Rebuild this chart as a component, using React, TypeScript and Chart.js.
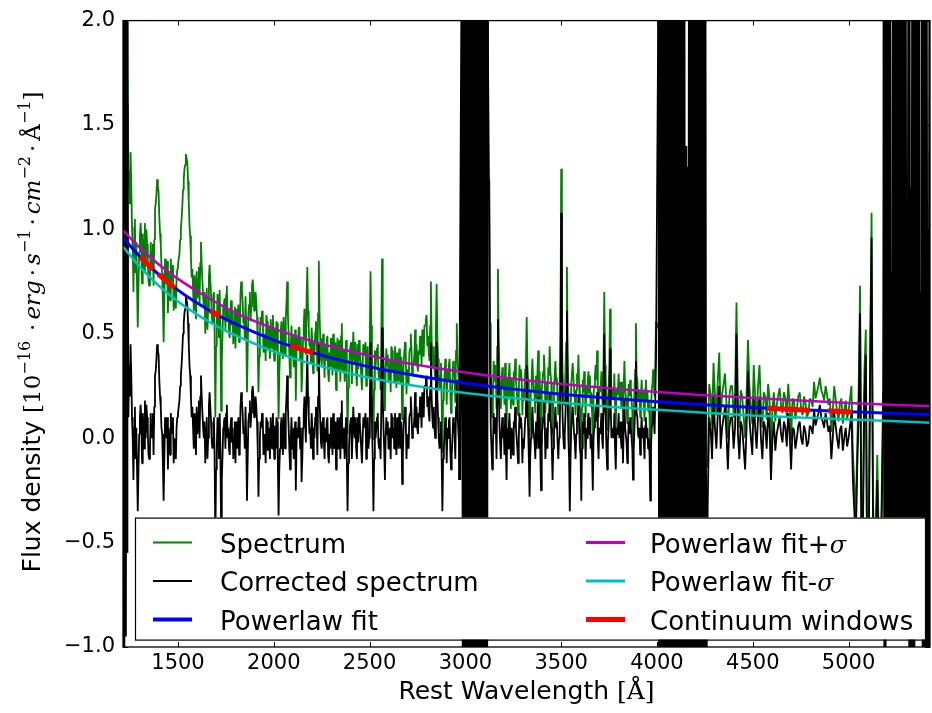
import { useEffect, useRef } from 'react';
import { Chart, registerables } from 'chart.js';
Chart.register(...registerables);

// ---------- axes ----------
const X_MIN = 1213;
const X_MAX = 5425;
const Y_MIN = -1;
const Y_MAX = 2;
const X_TICKS = [1500, 2000, 2500, 3000, 3500, 4000, 4500, 5000];
const Y_TICKS = [-1, -0.5, 0, 0.5, 1, 1.5, 2];

// ---------- spectrum, sampled on uniform wavelength grids (start, step) ----------
const SEG_A_START = 1213; const SEG_A_STEP = 4;
const SPEC_A = [2.4, 1.5, 2.6, 1.35, 2.3, 1.6, 2.1, 1.2];
const CORR_A = [2.5, -1.1, 2.4, -0.95, 2.3, -0.55, 1.6, 0.1];

// region B: 1245-2970 A, four interleaved grids of 15 A step
const SEG_B_STEP = 15;
const SEG_B_START = 1245;
const SPEC_B = [
  1.28, 1.01, 1.05, 0.53, 1.03, 0.90, 1.00, 0.73, 0.86, 1.10,
  1.21, 0.93, 0.46, 0.80, 0.74, 0.81, 0.67, 0.83, 1.00, 1.24,
  1.34, 1.02, 0.81, 0.70, 0.76, 0.94, 0.63, 0.72, 0.83, 0.55,
  0.10, 0.64, 0.13, 0.65, 0.73, 0.48, 0.60, 0.43, 0.64, 0.75,
  0.58, 0.22, 0.70, 0.76, 0.70, 0.22, 0.54, 0.44, 0.56, 0.38,
  0.59, 0.42, 0.09, 0.56, 0.50, 0.75, 0.29, 0.49, 0.18, 0.53,
  0.22, 0.62, 0.82, 0.46, 0.31, 0.56, 0.85, 0.35, 0.29, 0.49,
  0.34, 0.50, 0.23, 0.43, 0.55, 0.27, 0.02, 0.44, 0.51, 0.31,
  0.47, 0.23, 0.40, 0.44, 0.80, -0.01, 0.39, 0.28, 0.86, 0.13,
  0.40, 0.22, 0.37, 0.24, 0.43, 0.09, 0.46, 0.31, 0.50, 0.35,
  0.45, 0.40, 0.52, 0.54, 0.49, 0.75, 0.44, 0.74, 0.23, -0.07,
  0.38, 0.28, 0.12, 0.35, 0.55, 0.07,
];
const CORR_B = [
  0.35, 0.10, 0.15, -0.35, 0.16, 0.05, 0.16, -0.10, 0.05, 0.30,
  0.42, 0.15, -0.30, 0.05, 0.00, 0.08, -0.05, 0.12, 0.30, 0.55,
  0.66, 0.35, 0.15, 0.05, 0.12, 0.30, 0.00, 0.10, 0.22, -0.05,
  -0.50, 0.05, -0.45, 0.08, 0.16, -0.08, 0.05, -0.12, 0.10, 0.22,
  0.05, -0.30, 0.18, 0.25, 0.20, -0.28, 0.05, -0.05, 0.08, -0.10,
  0.12, -0.05, -0.37, 0.10, 0.05, 0.30, -0.15, 0.05, -0.25, 0.10,
  -0.21, 0.20, 0.40, 0.05, -0.10, 0.15, 0.45, -0.05, -0.10, 0.10,
  -0.05, 0.12, -0.15, 0.05, 0.18, -0.10, -0.35, 0.08, 0.15, -0.05,
  0.12, -0.12, 0.05, 0.10, 0.46, -0.35, 0.05, -0.05, 0.53, -0.20,
  0.08, -0.10, 0.05, -0.08, 0.12, -0.22, 0.15, 0.00, 0.20, 0.05,
  0.15, 0.10, 0.22, 0.25, 0.20, 0.46, 0.15, 0.46, -0.05, -0.35,
  0.10, 0.00, -0.15, 0.08, 0.28, -0.20,
];
const SEG_B2_START = 1252.5;
const SPEC_B2 = [
  1.37, 0.70, 0.94, 0.89, 0.74, 1.03, 0.85, 0.94, 0.73, 1.17,
  1.06, 0.79, 0.86, 0.60, 0.86, 0.61, 0.76, 0.88, 1.11, 1.31,
  1.23, 0.87, 0.61, 0.80, 0.64, 0.75, 0.50, 0.62, 0.69, 0.70,
  0.54, 0.71, 0.50, 0.52, 0.61, 0.66, 0.55, 0.59, 0.49, 0.65,
  0.68, 0.60, 0.63, 0.61, 0.58, 0.50, 0.59, 0.37, 0.53, 0.49,
  0.37, 0.55, 0.41, 0.38, 0.57, 0.50, 0.54, 0.39, 0.48, 0.38,
  0.47, 0.40, 0.52, 0.53, 0.41, 0.32, 0.48, 0.50, 0.37, 0.27,
  0.46, 0.38, 0.48, 0.27, 0.42, 0.47, 0.31, 0.26, 0.36, 0.45,
  0.37, 0.45, 0.25, 0.34, 0.39, 0.42, 0.45, 0.23, 0.38, 0.43,
  0.27, 0.42, 0.44, 0.34, 0.26, 0.36, 0.21, 0.41, 0.30, 0.52,
  0.32, 0.45, 0.39, 0.59, 0.37, 0.39, 0.29, 0.38, 0.36, 0.23,
  0.16, 0.38, 0.27, 0.17, 0.32,
];
const CORR_B2 = [
  0.45, -0.20, 0.05, 0.02, -0.12, 0.18, 0.02, 0.12, -0.08, 0.38,
  0.28, 0.02, 0.10, -0.15, 0.12, -0.12, 0.05, 0.18, 0.42, 0.62,
  0.55, 0.20, -0.05, 0.15, 0.00, 0.12, -0.12, 0.00, 0.08, 0.10,
  -0.05, 0.12, -0.08, -0.05, 0.05, 0.10, 0.00, 0.05, -0.05, 0.12,
  0.15, 0.08, 0.12, 0.10, 0.08, 0.00, 0.10, -0.12, 0.05, 0.02,
  -0.10, 0.08, -0.05, -0.08, 0.12, 0.05, 0.10, -0.05, 0.05, -0.05,
  0.05, -0.02, 0.10, 0.12, 0.00, -0.08, 0.08, 0.10, -0.02, -0.12,
  0.08, 0.00, 0.10, -0.10, 0.05, 0.10, -0.05, -0.10, 0.00, 0.10,
  0.02, 0.10, -0.10, 0.00, 0.05, 0.08, 0.12, -0.10, 0.05, 0.10,
  -0.05, 0.10, 0.12, 0.02, -0.05, 0.05, -0.10, 0.10, 0.00, 0.22,
  0.02, 0.15, 0.10, 0.30, 0.08, 0.10, 0.00, 0.10, 0.08, -0.05,
  -0.12, 0.10, 0.00, -0.10, 0.05,
];
const SEG_B3_START = 1248.75;
const SPEC_B3 = [
  1.12, 0.91, 0.79, 0.73, 0.94, 0.80, 0.93, 0.77, 0.93, 1.12,
  1.18, 0.82, 0.66, 0.85, 0.66, 0.83, 0.62, 0.86, 1.05, 1.29,
  1.32, 0.97, 0.71, 0.57, 0.82, 0.83, 0.70, 0.52, 0.76, 0.60,
  0.44, 0.48, 0.38, 0.67, 0.56, 0.61, 0.45, 0.62, 0.46, 0.71,
  0.47, 0.42, 0.56, 0.71, 0.65, 0.39, 0.61, 0.50, 0.42, 0.57,
  0.49, 0.56, 0.31, 0.45, 0.40, 0.59, 0.44, 0.34, 0.41, 0.53,
  0.32, 0.50, 0.61, 0.36, 0.46, 0.50, 0.60, 0.41, 0.44, 0.31,
  0.48, 0.33, 0.40, 0.47, 0.32, 0.38, 0.24, 0.46, 0.41, 0.25,
  0.43, 0.35, 0.46, 0.29, 0.54, 0.23, 0.43, 0.33, 0.53, 0.32,
  0.27, 0.44, 0.27, 0.41, 0.31, 0.23, 0.41, 0.25, 0.42, 0.40,
  0.35, 0.49, 0.44, 0.57, 0.41, 0.48, 0.33, 0.48, 0.30, 0.18,
  0.32, 0.35, 0.19, 0.29, 0.39,
];
const CORR_B3 = [
  0.20, 0.00, -0.10, -0.15, 0.08, -0.05, 0.10, -0.05, 0.12, 0.32,
  0.40, 0.05, -0.10, 0.10, -0.08, 0.10, -0.10, 0.15, 0.35, 0.60,
  0.64, 0.30, 0.05, -0.08, 0.18, 0.20, 0.08, -0.10, 0.15, 0.00,
  -0.15, -0.10, -0.20, 0.10, 0.00, 0.05, -0.10, 0.08, -0.08, 0.18,
  -0.05, -0.10, 0.05, 0.20, 0.15, -0.10, 0.12, 0.02, -0.06, 0.10,
  0.02, 0.10, -0.15, 0.00, -0.05, 0.15, 0.00, -0.10, -0.02, 0.10,
  -0.10, 0.08, 0.20, -0.05, 0.05, 0.10, 0.20, 0.02, 0.05, -0.08,
  0.10, -0.05, 0.02, 0.10, -0.05, 0.02, -0.12, 0.10, 0.05, -0.10,
  0.08, 0.00, 0.12, -0.05, 0.20, -0.10, 0.10, 0.00, 0.20, 0.00,
  -0.05, 0.12, -0.05, 0.10, 0.00, -0.08, 0.10, -0.05, 0.12, 0.10,
  0.05, 0.20, 0.15, 0.28, 0.12, 0.20, 0.05, 0.20, 0.02, -0.10,
  0.05, 0.08, -0.08, 0.02, 0.12,
];
const SEG_B4_START = 1256.25;
const SPEC_B4 = [
  1.21, 0.95, 0.73, 0.97, 0.98, 0.84, 0.75, 0.82, 0.95, 1.24,
  0.98, 0.65, 0.76, 0.80, 0.75, 0.72, 0.81, 0.95, 1.19, 1.36,
  1.13, 0.77, 0.78, 0.67, 0.84, 0.68, 0.67, 0.77, 0.59, 0.50,
  0.69, 0.54, 0.63, 0.69, 0.51, 0.54, 0.63, 0.49, 0.69, 0.55,
  0.53, 0.64, 0.73, 0.66, 0.45, 0.58, 0.41, 0.59, 0.48, 0.43,
  0.53, 0.35, 0.51, 0.58, 0.65, 0.40, 0.39, 0.52, 0.43, 0.48,
  0.54, 0.67, 0.44, 0.46, 0.51, 0.60, 0.38, 0.40, 0.47, 0.41,
  0.30, 0.46, 0.33, 0.49, 0.37, 0.27, 0.41, 0.38, 0.46, 0.33,
  0.30, 0.40, 0.37, 0.49, 0.26, 0.34, 0.31, 0.48, 0.28, 0.35,
  0.37, 0.32, 0.34, 0.27, 0.39, 0.41, 0.33, 0.43, 0.35, 0.35,
  0.42, 0.35, 0.54, 0.44, 0.54, 0.34, 0.54, 0.28, 0.18, 0.30,
  0.33, 0.23, 0.37, 0.42, 0.25,
];
const CORR_B4 = [
  0.30, 0.05, -0.15, 0.10, 0.12, 0.00, -0.08, 0.00, 0.15, 0.45,
  0.20, -0.12, 0.00, 0.05, 0.02, 0.00, 0.10, 0.25, 0.50, 0.68,
  0.45, 0.10, 0.12, 0.02, 0.20, 0.05, 0.05, 0.15, -0.02, -0.10,
  0.10, -0.05, 0.05, 0.12, -0.05, -0.02, 0.08, -0.05, 0.15, 0.02,
  0.00, 0.12, 0.22, 0.15, -0.05, 0.08, -0.08, 0.10, 0.00, -0.05,
  0.06, -0.12, 0.05, 0.12, 0.20, -0.05, -0.05, 0.08, 0.00, 0.05,
  0.12, 0.25, 0.02, 0.05, 0.10, 0.20, -0.02, 0.00, 0.08, 0.02,
  -0.08, 0.08, -0.05, 0.12, 0.00, -0.10, 0.05, 0.02, 0.10, -0.02,
  -0.05, 0.05, 0.02, 0.15, -0.08, 0.00, -0.02, 0.15, -0.05, 0.02,
  0.05, 0.00, 0.02, -0.05, 0.08, 0.10, 0.02, 0.12, 0.05, 0.05,
  0.12, 0.05, 0.25, 0.15, 0.25, 0.05, 0.25, 0.00, -0.10, 0.02,
  0.05, -0.05, 0.10, 0.15, -0.02,
];

// region C: absorption band near 3000-3120 A
const SEG_C_START = 2985; const SEG_C_STEP = 5;
const CORR_C = [
  2.6, -1.8, 2.4, -2.0, 2.7, -1.6, 2.5, -1.9, 2.3, -2.2,
  2.6, -1.7, 2.4, -2.0, 2.8, -1.9, 2.5, -1.6, 2.3, -2.1,
  2.6, -1.8, 2.4, -2.0, 2.5, -1.7, 2.2,
];

// region D: 3125-3995 A, four interleaved grids
const SEG_D_STEP = 15;
const SEG_D_START = 3125;
const SPEC_D = [
  1.24, 0.10, 0.35, 0.81, 0.14, 0.29, 0.04, 0.36, 0.24, 0.38,
  0.11, 0.33, 0.18, 0.58, -0.05, 0.38, 0.12, 0.42, -0.03, 0.40,
  0.27, 0.44, 0.02, 0.37, 0.11, 1.29, 0.16, 0.82, -0.14, 0.36,
  0.11, 0.40, -0.10, 0.32, 0.20, 0.30, -0.05, 0.35, 0.10, 0.32,
  0.70, 0.04, 0.62, 0.24, 0.04, 0.31, 0.14, 0.37, 0.07, 0.28,
  -0.02, 0.55, 0.18, 0.28, 0.08, 0.23, -0.12, 0.33, 0.56,
];
const CORR_D = [
  0.99, -0.15, 0.10, 0.57, -0.10, 0.05, -0.20, 0.12, 0.00, 0.15,
  -0.12, 0.10, -0.05, 0.35, -0.28, 0.15, -0.10, 0.20, -0.25, 0.18,
  0.05, 0.22, -0.20, 0.15, -0.10, 1.08, -0.05, 0.61, -0.35, 0.15,
  -0.10, 0.20, -0.30, 0.12, 0.00, 0.10, -0.25, 0.15, -0.10, 0.12,
  0.50, -0.15, 0.43, 0.05, -0.15, 0.12, -0.05, 0.18, -0.12, 0.10,
  -0.20, 0.37, 0.00, 0.10, -0.10, 0.05, -0.30, 0.15, 0.38,
];
const SEG_D2_START = 3132.5;
const SPEC_D2 = [
  0.30, 0.37, 0.14, 0.32, 0.34, 0.36, 0.19, 0.14, 0.32, 0.23,
  0.35, 0.11, 0.33, 0.28, 0.23, 0.28, 0.17, 0.32, 0.27, 0.12,
  0.34, 0.27, 0.24, 0.29, 0.26, 0.31, 0.33, 0.21, 0.26, 0.23,
  0.31, 0.15, 0.28, 0.10, 0.32, 0.22, 0.25, 0.42, 0.22, 0.15,
  0.29, 0.24, 0.19, 0.31, 0.21, 0.27, 0.07, 0.24, 0.26, 0.18,
  0.23, 0.28, 0.10, 0.23, 0.28, 0.18, 0.23, 0.20,
];
const CORR_D2 = [
  0.05, 0.12, -0.10, 0.08, 0.10, 0.12, -0.05, -0.10, 0.08, 0.00,
  0.12, -0.12, 0.10, 0.05, 0.00, 0.05, -0.05, 0.10, 0.05, -0.10,
  0.12, 0.05, 0.02, 0.08, 0.05, 0.10, 0.12, 0.00, 0.05, 0.02,
  0.10, -0.05, 0.08, -0.10, 0.12, 0.02, 0.05, 0.22, 0.02, -0.05,
  0.10, 0.05, 0.00, 0.12, 0.02, 0.08, -0.12, 0.05, 0.08, 0.00,
  0.05, 0.10, -0.08, 0.05, 0.10, 0.00, 0.05, 0.02,
];
const SEG_D3_START = 3128.75;
const SPEC_D3 = [
  0.55, 0.20, 0.30, 0.49, 0.26, 0.16, 0.29, 0.26, 0.16, 0.28,
  0.23, 0.28, 0.25, 0.35, 0.15, 0.28, 0.30, 0.17, 0.24, 0.32,
  0.17, 0.32, 0.17, 0.27, 0.21, 0.51, 0.23, 0.41, 0.11, 0.29,
  0.23, 0.25, 0.15, 0.25, 0.28, 0.15, 0.20, 0.28, 0.25, 0.20,
  0.35, 0.17, 0.34, 0.19, 0.24, 0.19, 0.27, 0.24, 0.17, 0.23,
  0.13, 0.30, 0.23, 0.18, 0.24, 0.13, 0.13, 0.26,
];
const CORR_D3 = [
  0.30, -0.05, 0.05, 0.25, 0.02, -0.08, 0.05, 0.02, -0.08, 0.05,
  0.00, 0.05, 0.02, 0.12, -0.08, 0.05, 0.08, -0.05, 0.02, 0.10,
  -0.05, 0.10, -0.05, 0.05, 0.00, 0.30, 0.02, 0.20, -0.10, 0.08,
  0.02, 0.05, -0.05, 0.05, 0.08, -0.05, 0.00, 0.08, 0.05, 0.00,
  0.15, -0.02, 0.15, 0.00, 0.05, 0.00, 0.08, 0.05, -0.02, 0.05,
  -0.05, 0.12, 0.05, 0.00, 0.06, -0.05, -0.05, 0.08,
];
const SEG_D4_START = 3136.25;
const SPEC_D4 = [
  0.20, 0.27, 0.44, 0.22, 0.24, 0.19, 0.29, 0.29, 0.28, 0.18,
  0.28, 0.23, 0.38, 0.13, 0.31, 0.20, 0.32, 0.14, 0.32, 0.22,
  0.30, 0.17, 0.31, 0.19, 0.51, 0.21, 0.46, 0.11, 0.26, 0.19,
  0.28, 0.12, 0.22, 0.25, 0.22, 0.12, 0.30, 0.20, 0.25, 0.39,
  0.14, 0.34, 0.21, 0.14, 0.24, 0.19, 0.24, 0.16, 0.20, 0.13,
  0.33, 0.20, 0.20, 0.16, 0.18, 0.10, 0.26, 0.37,
];
const CORR_D4 = [
  -0.05, 0.02, 0.20, -0.02, 0.00, -0.05, 0.05, 0.05, 0.05, -0.05,
  0.05, 0.00, 0.15, -0.10, 0.08, -0.02, 0.10, -0.08, 0.10, 0.00,
  0.08, -0.05, 0.10, -0.02, 0.30, 0.00, 0.25, -0.10, 0.05, -0.02,
  0.08, -0.08, 0.02, 0.05, 0.02, -0.08, 0.10, 0.00, 0.05, 0.20,
  -0.05, 0.15, 0.02, -0.05, 0.05, 0.00, 0.05, -0.02, 0.02, -0.05,
  0.15, 0.02, 0.02, -0.02, 0.00, -0.08, 0.08, 0.20,
];

// region E: absorption band near 4010-4255 A
const SEG_E_START = 4010; const SEG_E_STEP = 5;
const CORR_E = [
  2.5, -1.9, 2.3, -1.7, 2.6, -2.0, 2.4, -1.8, 2.7, -2.1,
  2.3, -1.9, 2.5, -1.6, 2.6, -2.0, 2.4, -1.8, 2.2, -2.1,
  2.6, -1.7, 2.5, -1.9, 2.3, -2.0, 2.6, -1.8, 1.4, -1.9,
  1.3, -1.7, 2.5, -2.0, 2.4, -1.8, 2.6, -2.1, 2.3, -1.9,
  2.5, -1.7, 2.7, -2.0, 2.4, -1.8, 2.5, -1.9, 2.3, -1.6,
];

// region F: 4265-5180 A, two interleaved grids
const SEG_F_STEP = 15;
const SEG_F_START = 4265;
const SPEC_F = [
  -0.14, 0.21, 0.36, 0.11, 0.41, 0.21, 0.31, 0.00, 0.25, 0.10,
  0.65, 0.05, 0.20, 0.00, 0.47, 0.15, 0.35, 0.10, 0.35, 0.05,
  0.20, 0.26, -0.06, 0.22, 0.16, 0.24, 0.12, 0.19, 0.26, -0.01,
  0.18, 0.14, 0.22, 0.11, 0.17, 0.12, 0.18, 0.27, 0.22, 0.29,
  0.21, 0.25, 0.16, 0.03, 0.25, 0.13, 0.17, 0.07, 0.18, 0.13,
  0.25, -0.22, -0.03, 0.73, -0.33, 0.52, -0.48, 1.08, -0.58, -0.08,
  -0.78, 0.22,
];
const CORR_F = [
  -0.30, 0.05, 0.20, -0.05, 0.25, 0.05, 0.15, -0.15, 0.10, -0.05,
  0.50, -0.10, 0.05, -0.15, 0.32, 0.00, 0.20, -0.05, 0.20, -0.10,
  0.05, 0.12, -0.20, 0.08, 0.02, 0.10, -0.02, 0.05, 0.12, -0.15,
  0.04, 0.00, 0.08, -0.03, 0.03, -0.02, 0.05, 0.14, 0.09, 0.16,
  0.08, 0.12, 0.03, -0.10, 0.12, 0.00, 0.04, -0.06, 0.05, 0.00,
  0.12, -0.35, -0.15, 0.60, -0.45, 0.40, -0.60, 0.96, -0.70, -0.20,
  -0.90, 0.10,
];
const SEG_F2_START = 4272.5;
const SPEC_F2 = [
  0.26, 0.06, 0.21, 0.28, 0.11, 0.26, 0.17, 0.20, 0.25, 0.20,
  0.17, 0.23, 0.10, 0.20, 0.25, 0.07, 0.20, 0.25, 0.15, 0.22,
  0.09, 0.19, 0.14, 0.08, 0.20, 0.16, 0.22, 0.10, 0.16, 0.19,
  0.09, 0.20, 0.14, 0.20, 0.10, 0.19, 0.15, 0.19, 0.25, 0.23,
  0.18, 0.21, 0.19, 0.13, 0.19, 0.08, 0.19, 0.13, 0.09, 0.19,
  -0.07, -0.37, 0.23, -0.48, 0.32, -0.68, 0.42, -0.28, -0.38, -0.48,
  -0.28,
];
const CORR_F2 = [
  0.10, -0.10, 0.05, 0.12, -0.05, 0.10, 0.02, 0.05, 0.10, 0.05,
  0.02, 0.08, -0.05, 0.05, 0.10, -0.08, 0.05, 0.10, 0.00, 0.08,
  -0.05, 0.05, 0.00, -0.06, 0.06, 0.02, 0.08, -0.04, 0.02, 0.05,
  -0.05, 0.06, 0.00, 0.06, -0.04, 0.06, 0.02, 0.06, 0.12, 0.10,
  0.05, 0.08, 0.06, 0.00, 0.06, -0.05, 0.06, 0.00, -0.04, 0.06,
  -0.20, -0.50, 0.10, -0.60, 0.20, -0.80, 0.30, -0.40, -0.50, -0.60,
  -0.40,
];

// region G: sky-line residuals beyond 5185 A
const SEG_G_START = 5185; const SEG_G_STEP = 5;
const CORR_G = [
  2.5, -1.3, 2.4, -0.9, 2.6, -0.8, 2.3, -0.7, 0.8, -0.9,
  2.5, -0.8, 2.4, -0.7, 2.6, -0.9, 2.3, -0.8, 2.5, -0.7,
  2.4, -0.9, 2.6, -0.6, 0.9, -0.8, 2.5, -1.3, 1.2, -1.4,
  2.4, -1.5, 2.6, -0.8, 2.3, -0.7, 2.5, -0.9, 0.7, -0.8,
  2.4, -1.4, 2.6, -1.5, 2.3, -1.3, 1.0, -1.4, 2.5,
];

// ---------- power-law fits ----------
const FIT_WAVE = [1213, 1300, 1400, 1500, 1600, 1700, 1800, 2000, 2200, 2400, 2600, 2800, 3000, 3250, 3500, 3750, 4000, 4250, 4500, 4750, 5000, 5250, 5425];
const FIT_MID = [0.961, 0.871, 0.783, 0.709, 0.647, 0.593, 0.547, 0.470, 0.410, 0.362, 0.323, 0.291, 0.263, 0.235, 0.211, 0.191, 0.175, 0.160, 0.147, 0.136, 0.127, 0.118, 0.113];
const FIT_HIGH = [0.995, 0.913, 0.832, 0.763, 0.704, 0.650, 0.600, 0.525, 0.465, 0.416, 0.376, 0.343, 0.315, 0.285, 0.260, 0.239, 0.221, 0.206, 0.192, 0.180, 0.169, 0.159, 0.153];
const FIT_LOW = [0.917, 0.822, 0.730, 0.655, 0.592, 0.538, 0.492, 0.415, 0.356, 0.309, 0.272, 0.242, 0.217, 0.192, 0.170, 0.151, 0.136, 0.122, 0.109, 0.099, 0.090, 0.081, 0.074];

// ---------- continuum windows (null = gap between windows) ----------
const CONT_WAVE = [1302, 1336, 1370, 1383, 1396, 1440, 1484, 1575, 1667, 1693, 1719, 1900, 2085, 2145, 2205, 3400, 4574, 4687, 4799, 4846, 4893, 4955, 5018];
const CONT_FLUX = [0.869, 0.837, 0.808, null, 0.786, 0.752, 0.720, null, 0.610, 0.597, 0.584, null, 0.443, 0.425, 0.409, null, 0.144, 0.139, 0.134, null, 0.131, 0.128, 0.126];

// ---------- legend ----------
const LEGEND_ITEMS = [
  { label: 'Spectrum', sigma: false, color: '#008000', width: 2, col: 0, row: 0 },
  { label: 'Corrected spectrum', sigma: false, color: '#000000', width: 2, col: 0, row: 1 },
  { label: 'Powerlaw fit', sigma: false, color: '#0000ff', width: 4, col: 0, row: 2 },
  { label: 'Powerlaw fit+', sigma: true, color: '#bf00bf', width: 3, col: 1, row: 0 },
  { label: 'Powerlaw fit-', sigma: true, color: '#00bfbf', width: 3, col: 1, row: 1 },
  { label: 'Continuum windows', sigma: false, color: '#ff0000', width: 5, col: 1, row: 2 },
];

const SANS = '"DejaVu Sans", sans-serif';
const SERIF = '"DejaVu Serif", serif';

function seg(start: number, step: number, values: (number | null)[]) {
  return values.map((v, i) => ({ x: start + i * step, y: v }));
}
function pairs(xs: number[], ys: (number | null)[]) {
  return xs.map((x, i) => ({ x, y: ys[i] }));
}
function byX(pts: { x: number; y: number | null }[]) {
  return pts.slice().sort((p, q) => p.x - q.x);
}

type Piece = { t?: string; font?: string; rise?: number; gap?: number };
function piecesWidth(ctx: CanvasRenderingContext2D, pieces: Piece[]) {
  let w = 0;
  for (const p of pieces) {
    if (p.gap) w += p.gap;
    if (p.t) { ctx.font = p.font!; w += ctx.measureText(p.t).width; }
  }
  return w;
}
function drawPieces(ctx: CanvasRenderingContext2D, pieces: Piece[], x: number, y: number) {
  let cx = x;
  for (const p of pieces) {
    if (p.gap) cx += p.gap;
    if (p.t) {
      ctx.font = p.font!;
      ctx.fillText(p.t, cx, y - (p.rise || 0));
      cx += ctx.measureText(p.t).width;
    }
  }
}

const MATH = '23px ' + SERIF;
const MATH_IT = 'italic 23px ' + SERIF;
const SUP = '16px ' + SERIF;
const Y_TITLE: Piece[] = [
  { t: 'Flux density', font: '25px ' + SANS },
  { gap: 8 },
  { t: '[10', font: MATH },
  { t: '\u221216', font: SUP, rise: 10 },
  { gap: 10 },
  { t: '\u00b7', font: MATH }, { gap: 4 },
  { t: 'erg', font: MATH_IT }, { gap: 4 },
  { t: '\u00b7', font: MATH }, { gap: 4 },
  { t: 's', font: MATH_IT },
  { t: '\u22121', font: SUP, rise: 10 }, { gap: 4 },
  { t: '\u00b7', font: MATH }, { gap: 4 },
  { t: 'cm', font: MATH_IT },
  { t: '\u22122', font: SUP, rise: 10 }, { gap: 4 },
  { t: '\u00b7', font: MATH }, { gap: 4 },
  { t: '\u00c5', font: MATH },
  { t: '\u22121', font: SUP, rise: 10 },
  { t: ']', font: MATH },
];
const X_TITLE: Piece[] = [
  { t: 'Rest Wavelength ', font: '25px ' + SANS },
  { t: '[\u00c5]', font: '25px ' + SERIF },
];

const decorPlugin = {
  id: 'decor',
  afterDraw(chart: any) {
    const { ctx, chartArea: a } = chart;
    const xs = chart.scales.x;
    const ys = chart.scales.y;
    ctx.save();
    ctx.strokeStyle = '#000';
    ctx.lineWidth = 1;
    ctx.beginPath();
    for (const v of X_TICKS) {
      const p = Math.round(xs.getPixelForValue(v)) + 0.5;
      ctx.moveTo(p, a.top); ctx.lineTo(p, a.top + 5);
      ctx.moveTo(p, a.bottom); ctx.lineTo(p, a.bottom - 5);
    }
    for (const v of Y_TICKS) {
      const p = Math.round(ys.getPixelForValue(v)) + 0.5;
      ctx.moveTo(a.left, p); ctx.lineTo(a.left + 5, p);
      ctx.moveTo(a.right, p); ctx.lineTo(a.right - 5, p);
    }
    ctx.stroke();
    ctx.lineWidth = 1.3;
    ctx.strokeRect(a.left, a.top, a.right - a.left, a.bottom - a.top);

    // legend box
    const bx = a.left + 12, by = a.top + 497, bw = a.right - 5 - bx, bh = 122;
    ctx.fillStyle = '#fff';
    ctx.fillRect(bx, by, bw, bh);
    ctx.lineWidth = 1.2;
    ctx.strokeStyle = '#000';
    ctx.strokeRect(bx + 0.5, by + 0.5, bw, bh);
    const colSample = [bx + 18, bx + 451];
    const colText = [bx + 85, bx + 515];
    for (const it of LEGEND_ITEMS) {
      const ly = by + 25 + it.row * 38.5;
      ctx.beginPath();
      ctx.strokeStyle = it.color;
      ctx.lineWidth = it.width;
      ctx.moveTo(colSample[it.col], ly);
      ctx.lineTo(colSample[it.col] + 39, ly);
      ctx.stroke();
      ctx.fillStyle = '#000';
      ctx.textAlign = 'left';
      ctx.textBaseline = 'alphabetic';
      const pcs: Piece[] = [{ t: it.label, font: '26px ' + SANS }];
      if (it.sigma) pcs.push({ t: '\u03c3', font: 'italic 24px ' + SERIF });
      drawPieces(ctx, pcs, colText[it.col], ly + 10);
    }

    // x title
    ctx.fillStyle = '#000';
    ctx.textAlign = 'left';
    ctx.textBaseline = 'alphabetic';
    const xw = piecesWidth(ctx, X_TITLE);
    drawPieces(ctx, X_TITLE, (a.left + a.right) / 2 - xw / 2, 699);

    // y title
    const yw = piecesWidth(ctx, Y_TITLE);
    ctx.translate(40, 332);
    ctx.rotate(-Math.PI / 2);
    drawPieces(ctx, Y_TITLE, -yw / 2, 0);
    ctx.restore();
  },
};

function fmtY(v: number) {
  return v.toFixed(1).replace('-', '\u2212');
}

export default function App() {
  const ref = useRef<HTMLCanvasElement>(null);
  useEffect(() => {
    const spectrum = byX([
      ...seg(SEG_A_START, SEG_A_STEP, SPEC_A),
      ...seg(SEG_B_START, SEG_B_STEP, SPEC_B),
      ...seg(SEG_B2_START, SEG_B_STEP, SPEC_B2),
      ...seg(SEG_B3_START, SEG_B_STEP, SPEC_B3),
      ...seg(SEG_B4_START, SEG_B_STEP, SPEC_B4),
      ...seg(SEG_D_START, SEG_D_STEP, SPEC_D),
      ...seg(SEG_D2_START, SEG_D_STEP, SPEC_D2),
      ...seg(SEG_D3_START, SEG_D_STEP, SPEC_D3),
      ...seg(SEG_D4_START, SEG_D_STEP, SPEC_D4),
      ...seg(SEG_F_START, SEG_F_STEP, SPEC_F),
      ...seg(SEG_F2_START, SEG_F_STEP, SPEC_F2),
    ]);
    const corrected = byX([
      ...seg(SEG_A_START, SEG_A_STEP, CORR_A),
      ...seg(SEG_B_START, SEG_B_STEP, CORR_B),
      ...seg(SEG_B2_START, SEG_B_STEP, CORR_B2),
      ...seg(SEG_B3_START, SEG_B_STEP, CORR_B3),
      ...seg(SEG_B4_START, SEG_B_STEP, CORR_B4),
      ...seg(SEG_C_START, SEG_C_STEP, CORR_C),
      ...seg(SEG_D_START, SEG_D_STEP, CORR_D),
      ...seg(SEG_D2_START, SEG_D_STEP, CORR_D2),
      ...seg(SEG_D3_START, SEG_D_STEP, CORR_D3),
      ...seg(SEG_D4_START, SEG_D_STEP, CORR_D4),
      ...seg(SEG_E_START, SEG_E_STEP, CORR_E),
      ...seg(SEG_F_START, SEG_F_STEP, CORR_F),
      ...seg(SEG_F2_START, SEG_F_STEP, CORR_F2),
      ...seg(SEG_G_START, SEG_G_STEP, CORR_G),
    ]);
    const common = { pointRadius: 0, fill: false, clip: 0, borderJoinStyle: 'bevel' as const };
    const chart = new Chart(ref.current!, {
      type: 'line',
      data: {
        datasets: [
          { ...common, label: 'Continuum windows', data: pairs(CONT_WAVE, CONT_FLUX), borderColor: '#ff0000', borderWidth: 5, spanGaps: false, order: 1, borderCapStyle: 'butt' },
          { ...common, label: 'Powerlaw fit', data: pairs(FIT_WAVE, FIT_MID), borderColor: '#0000ff', borderWidth: 3, cubicInterpolationMode: 'monotone', order: 2 },
          { ...common, label: 'Powerlaw fit+σ', data: pairs(FIT_WAVE, FIT_HIGH), borderColor: '#bf00bf', borderWidth: 2.5, cubicInterpolationMode: 'monotone', order: 3 },
          { ...common, label: 'Powerlaw fit-σ', data: pairs(FIT_WAVE, FIT_LOW), borderColor: '#00bfbf', borderWidth: 2.5, cubicInterpolationMode: 'monotone', order: 4 },
          {
            ...common, label: 'Corrected spectrum', data: corrected, borderColor: '#000000', borderWidth: 1.8, order: 5,
            segment: {
              borderWidth: (c: any) => (Math.abs(c.p1.parsed.y - c.p0.parsed.y) > 2.5 ? 3 : 1.8),
            },
          },
          { ...common, label: 'Spectrum', data: spectrum, borderColor: '#008000', borderWidth: 1.8, order: 6 },
        ] as any,
      },
      options: {
        animation: false,
        responsive: false,
        maintainAspectRatio: false,
        parsing: false as any,
        normalized: true,
        layout: { padding: { left: 0, right: 2, top: 13, bottom: 0 } },
        plugins: { legend: { display: false }, tooltip: { enabled: false } },
        scales: {
          x: {
            type: 'linear', min: X_MIN, max: X_MAX,
            grid: { display: false, drawTicks: false },
            border: { display: false },
            afterBuildTicks: (s: any) => { s.ticks = X_TICKS.map((v) => ({ value: v })); },
            afterFit: (s: any) => { s.height = 66; },
            ticks: {
              color: '#000', font: { family: SANS, size: 21 }, padding: 4,
              maxRotation: 0, autoSkip: false, callback: (v: any) => String(v),
            },
          },
          y: {
            type: 'linear', min: Y_MIN, max: Y_MAX,
            grid: { display: false, drawTicks: false },
            border: { display: false },
            afterBuildTicks: (s: any) => { s.ticks = Y_TICKS.map((v) => ({ value: v })); },
            afterFit: (s: any) => { s.width = 123; },
            ticks: {
              color: '#000', font: { family: SANS, size: 21 }, padding: 8,
              autoSkip: false, callback: (v: any) => fmtY(Number(v)),
            },
          },
        },
      } as any,
      plugins: [decorPlugin],
    });
    return () => chart.destroy();
  }, []);
  return (
    <div style={{ position: 'absolute', left: 0, top: 0, width: 932, height: 713, background: '#fff' }}>
      <canvas ref={ref} width={932} height={713} style={{ display: 'block' }} />
    </div>
  );
}
